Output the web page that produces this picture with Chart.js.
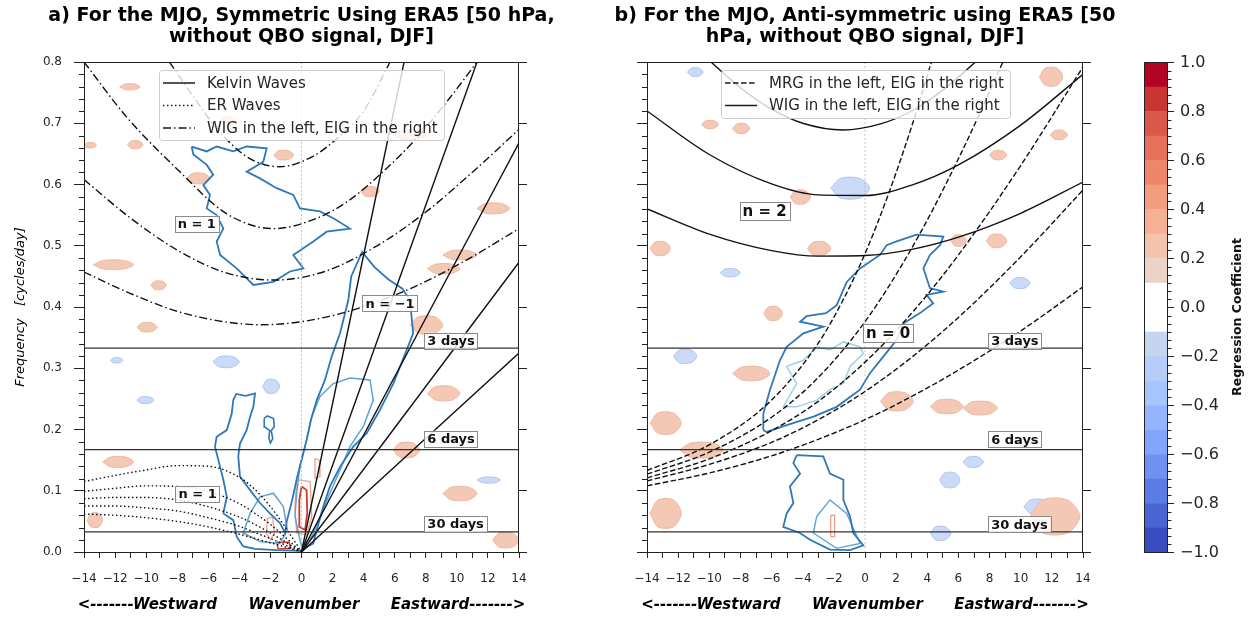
<!DOCTYPE html>
<html>
<head>
<meta charset="utf-8">
<script src="https://cdn.jsdelivr.net/npm/chart.js@4.4.1/dist/chart.umd.min.js"></script>
<style>
  html, body { margin: 0; padding: 0; background: #fff; }
  #wrap { position: relative; width: 1251px; height: 619px; overflow: hidden; }
  canvas { position: absolute; left: 0; top: 0; }
</style>
</head>
<body>
<div id="wrap">
  <canvas id="chartA" width="1251" height="619"></canvas>
  <canvas id="chartB" width="1251" height="619"></canvas>
  <canvas id="cbar" width="1251" height="619"></canvas>
</div>
<script>
// ---- values ----
const periodLabels = ['3 days', '6 days', '30 days'];
const periodFreq = [0.333, 0.167, 0.033];

// panel a: Kelvin waves, lines from the origin to the edge of the box
const kelvinEndK = [6.6, 11.3, 14, 14, 14];
const kelvinEndF = [0.8, 0.8, 0.668, 0.473, 0.325];

// panel a: WIG (left) / EIG (right), n = 1
const igaK1 = [-8.5, -7, -5.5, -3.5, -1.4, 0.8, 2.5, 4, 5.7];
const igaF1 = [0.8, 0.745, 0.693, 0.645, 0.629, 0.647, 0.68, 0.72, 0.8];
const igaK2 = [-14, -11.25, -8, -4.8, -1.8, 1, 3, 5, 7.2, 9.5, 11.3];
const igaF2 = [0.8, 0.71, 0.625, 0.552, 0.528, 0.545, 0.573, 0.615, 0.67, 0.74, 0.8];
const igaK3 = [-14, -11, -8, -5, -1.8, 1.5, 5, 8, 11, 14];
const igaF3 = [0.608, 0.545, 0.493, 0.457, 0.444, 0.458, 0.502, 0.555, 0.62, 0.69];
const igaK4 = [-14, -11, -8, -5, -2.6, 0, 3.3, 7, 10.5, 14];
const igaF4 = [0.457, 0.422, 0.393, 0.376, 0.371, 0.376, 0.395, 0.43, 0.475, 0.528];

// panel a: ER waves, n = 1
const erK = [-14, -12, -10, -8, -6, -4, -3, -2, -1, 0];
const erF1 = [0.115, 0.125, 0.134, 0.141, 0.140, 0.122, 0.102, 0.074, 0.039, 0];
const erF2 = [0.099, 0.104, 0.108, 0.107, 0.099, 0.079, 0.063, 0.045, 0.023, 0];
const erF3 = [0.087, 0.089, 0.089, 0.085, 0.074, 0.057, 0.045, 0.031, 0.016, 0];
const erF4 = [0.075, 0.075, 0.072, 0.067, 0.056, 0.042, 0.032, 0.022, 0.011, 0];
const erF5 = [0.062, 0.060, 0.056, 0.050, 0.041, 0.029, 0.022, 0.015, 0.008, 0];

// panel b: MRG (left) / EIG (right), n = 0
const mrgK = [-14, -10, -6, -3, 0, 3, 6, 10, 14];
const mrgF1 = [0.108, 0.129, 0.157, 0.184, 0.216, 0.254, 0.297, 0.361, 0.433];
const mrgF2 = [0.116, 0.143, 0.179, 0.216, 0.262, 0.318, 0.383, 0.482, 0.591];
const mrgF3 = [0.121, 0.152, 0.198, 0.246, 0.31, 0.39, 0.485, 0.631, 0.792];
const mrgK4 = [-14, -10, -6, -3, 0, 3, 6, 9];
const mrgF4 = [0.127, 0.163, 0.22, 0.285, 0.376, 0.496, 0.642, 0.808];
const mrgK5 = [-14, -10, -6, -3, -1.5, 0, 1.5, 3, 4.3];
const mrgF5 = [0.133, 0.175, 0.248, 0.341, 0.407, 0.487, 0.584, 0.695, 0.803];

// panel b: WIG (left) / EIG (right), n = 2
const igbK = [-14, -10, -6, -3, 0, 3, 6, 10, 14];
const igbF1 = [0.56, 0.519, 0.492, 0.483, 0.484, 0.494, 0.514, 0.553, 0.604];
const igbF2 = [0.72, 0.649, 0.601, 0.583, 0.582, 0.599, 0.632, 0.697, 0.78];
const igbK3 = [-9.9, -8, -6, -4, -1.4, 1, 3, 5, 7.1];
const igbF3 = [0.8, 0.758, 0.723, 0.7, 0.689, 0.699, 0.72, 0.754, 0.8];

// main regression contours, [wavenumber, frequency]
const aDarkWedge = [[-3.75,0.009],[-4.17,0.025],[-4.39,0.052],[-5.03,0.063],[-4.81,0.09],[-5.03,0.118],[-5.24,0.139],
  [-5.57,0.172],[-5.46,0.188],[-4.81,0.199],[-4.49,0.226],[-4.39,0.248],[-4.2,0.258],[-3.6,0.255],[-2.99,0.259],
  [-3.1,0.237],[-3.31,0.221],[-3.53,0.199],[-3.96,0.177],[-4.07,0.156],[-3.96,0.123],[-3.31,0.101],[-2.67,0.08],
  [-2.03,0.063],[-1.38,0.047],[-1.06,0.031],[-0.95,0.05],[-0.6,0.085],[-0.3,0.12],[0.0,0.15],[0.33,0.183],
  [0.6,0.215],[0.98,0.248],[1.51,0.281],[1.94,0.319],[2.48,0.357],[3.01,0.411],[3.2,0.45],[3.9,0.49],[4.7,0.465],
  [5.6,0.445],[6.5,0.43],[6.98,0.411],[7.19,0.357],[6.77,0.33],[5.91,0.275],[5.05,0.232],[4.2,0.194],[3.33,0.172],
  [2.48,0.139],[1.83,0.107],[1.4,0.074],[0.98,0.036],[0.76,0.014],[-0.1,0.002],[-1.6,0.003],[-3.0,0.005],[-3.75,0.009]];
const aDarkUpper = [[-7.07,0.662],[-6.1,0.654],[-5.46,0.662],[-4.39,0.654],[-3.53,0.662],[-2.24,0.659],[-2.46,0.637],
  [-3.53,0.621],[-2.67,0.61],[-1.6,0.594],[-0.53,0.583],[-0.1,0.561],[1.19,0.556],[2.05,0.545],[3.12,0.528],
  [1.62,0.523],[0.76,0.507],[-0.53,0.485],[0.12,0.463],[-0.74,0.458],[-1.81,0.441],[-3.1,0.436],[-4.17,0.463],
  [-5.24,0.485],[-5.46,0.507],[-5.03,0.528],[-5.46,0.55],[-6.1,0.561],[-5.89,0.583],[-6.32,0.599],[-5.68,0.616],
  [-6.1,0.632],[-6.96,0.649],[-7.07,0.662]];
const aDarkSmall = [[-2.4,0.218],[-2.2,0.222],[-1.8,0.218],[-1.75,0.205],[-1.95,0.198],[-1.85,0.185],[-2.0,0.178],
  [-2.1,0.186],[-2.05,0.198],[-2.35,0.204],[-2.4,0.218]];
const aMidWedge = [[-0.1,0.02],[-0.42,0.058],[-0.31,0.096],[-0.1,0.139],[0.33,0.183],[0.66,0.221],[1.19,0.254],
  [2.05,0.275],[3.12,0.284],[4.41,0.281],[4.62,0.248],[3.98,0.205],[3.12,0.172],[2.48,0.134],[1.83,0.096],
  [1.19,0.058],[0.66,0.025],[0.01,0.009],[-0.1,0.02]];
const aMidWest = [[-2.67,0.09],[-1.81,0.096],[-1.17,0.074],[-0.91,0.036],[-1.38,0.014],[-2.67,0.017],[-3.75,0.031],
  [-3.31,0.063],[-2.67,0.09]];
const aRedOuter = [[-0.31,0.118],[0.55,0.115],[0.66,0.058],[0.33,0.028],[-0.31,0.031],[-0.42,0.074],[-0.31,0.118]];
const aRedInner = [[0.01,0.107],[0.33,0.101],[0.37,0.063],[0.23,0.036],[-0.1,0.041],[-0.14,0.085],[0.01,0.107]];
const aRedUpper = [[0.87,0.153],[1.15,0.15],[1.19,0.123],[0.87,0.12],[0.87,0.153]];
const aRedWest = [[-2.2,0.055],[-1.85,0.057],[-1.75,0.03],[-2.0,0.02],[-2.25,0.03],[-2.2,0.055]];
const aRedBottom = [[-1.6,0.016],[-0.8,0.016],[-0.7,0.006],[-1.5,0.005],[-1.6,0.016]];

const bDarkBand = [[-6.53,0.199],[-6.53,0.226],[-6.1,0.265],[-5.46,0.313],[-5.03,0.335],[-3.96,0.357],[-2.67,0.368],
  [-4.17,0.376],[-3.75,0.385],[-2.5,0.39],[-1.82,0.403],[-1.17,0.441],[-0.32,0.463],[0.96,0.485],[1.39,0.501],
  [2.03,0.507],[3.31,0.518],[5.03,0.515],[4.82,0.501],[4.17,0.485],[3.75,0.463],[4.17,0.431],[5.03,0.425],
  [3.95,0.42],[4.38,0.406],[3.53,0.39],[2.46,0.373],[2.03,0.346],[1.17,0.319],[0.32,0.292],[-0.32,0.265],
  [-1.82,0.237],[-3.31,0.221],[-5.03,0.207],[-6.32,0.196],[-6.53,0.199]];
const bLightBand = [[-5.25,0.237],[-4.39,0.275],[-5.03,0.303],[-3.96,0.313],[-3.1,0.335],[-2.25,0.33],[-1.39,0.343],
  [-0.32,0.335],[-0.11,0.324],[-0.96,0.303],[-1.39,0.275],[-2.25,0.265],[-3.1,0.248],[-4.39,0.237],[-5.25,0.237]];
const bDarkLow = [[-4.39,0.158],[-2.68,0.156],[-2.25,0.128],[-1.39,0.118],[-1.39,0.085],[-0.96,0.058],[-0.75,0.031],
  [-0.11,0.011],[-0.96,0.003],[-2.25,0.004],[-3.53,0.02],[-4.18,0.031],[-5.25,0.041],[-5.03,0.063],[-4.6,0.08],
  [-4.82,0.107],[-4.17,0.128],[-4.6,0.145],[-4.39,0.158]];
const bLightLow = [[-3.1,0.058],[-2.25,0.085],[-1.18,0.063],[-0.32,0.014],[-1.82,0.006],[-3.32,0.031],[-3.1,0.058]];
const bRedLow = [[-2.2,0.06],[-1.95,0.06],[-1.95,0.025],[-2.2,0.025],[-2.2,0.06]];

// weak positive / negative patches, [k from, k to, f from, f to]
const aPinkPatches = [[-11.7,-10.4,0.755,0.764],[-11.2,-10.2,0.659,0.671],[-14,-13.2,0.66,0.668],[-7.4,-5.9,0.602,0.618],
  [-5.2,-4.2,0.698,0.71],[-13.4,-10.8,0.462,0.476],[-9.7,-8.7,0.429,0.442],[-1.8,-0.5,0.641,0.655],[5.9,8.1,0.674,0.688],
  [9.1,11.3,0.478,0.492],[8.1,10.2,0.455,0.47],[11.3,13.4,0.553,0.569],[3.8,5.0,0.581,0.596],[7.0,9.1,0.357,0.384],
  [8.1,10.2,0.248,0.27],[5.9,7.6,0.155,0.178],[-12.8,-10.8,0.139,0.155],[9.1,11.3,0.085,0.106],[12.3,14,0.008,0.031],
  [-10.6,-9.3,0.36,0.374],[-13.8,-12.8,0.041,0.063]];
const aBluePatches = [[-5.7,-4.0,0.302,0.319],[-2.5,-1.4,0.26,0.281],[-12.3,-11.5,0.309,0.317],[11.3,12.8,0.113,0.122],
  [-10.6,-9.5,0.243,0.253]];
const bPinkPatches = [[-10.5,-9.4,0.692,0.704],[-8.5,-7.4,0.684,0.699],[11.2,12.7,0.762,0.79],[8.0,9.1,0.641,0.655],
  [11.9,13.0,0.674,0.688],[-4.8,-3.5,0.569,0.59],[5.5,6.5,0.5,0.517],[7.8,9.1,0.498,0.518],[-3.7,-2.2,0.485,0.506],
  [-13.8,-12.5,0.485,0.506],[-8.5,-6.1,0.281,0.302],[-13.8,-11.8,0.041,0.085],[10.6,13.8,0.031,0.085],[4.2,6.3,0.227,0.248],
  [1.0,3.1,0.232,0.26],[6.3,8.5,0.225,0.245],[-11.9,-9.1,0.155,0.178],[-6.5,-5.3,0.379,0.4],[-13.8,-11.8,0.194,0.227]];
const bBluePatches = [[-12.3,-10.8,0.309,0.33],[4.2,5.5,0.02,0.041],[6.3,7.6,0.139,0.155],[4.8,6.1,0.106,0.129],
  [10.2,11.9,0.063,0.085],[-2.2,0.3,0.578,0.61],[-11.4,-10.4,0.777,0.79],[-9.3,-8.0,0.45,0.462],[9.3,10.6,0.431,0.447]];

// colour bar
const cbLevels = [-1, -0.9, -0.8, -0.7, -0.6, -0.5, -0.4, -0.3, -0.2, -0.1, 0, 0.1, 0.2, 0.3, 0.4, 0.5, 0.6, 0.7, 0.8, 0.9, 1];
const cbColors = ['#3b4cc0', '#4a64d4', '#5b7be5', '#6e91f2', '#81a5fb', '#94b5fe', '#a6c4fe', '#b6cdf8', '#c6d5ef',
  '#ffffff', '#ffffff', '#ebd3c7', '#f3c3ad', '#f5b096', '#f39d7f', '#ee8669', '#e5715a', '#d9584a', '#c93530', '#b40426'];

// ---- helpers ----
const FONT = 'DejaVu Sans';
const TXT = '#262626';
const DASHDOT = [8, 3, 1.5, 3];
const DOTTED = [1.5, 2.5];
const DASHED = [5.5, 2.5];

function pairs(ks, fs) { return ks.map((k, i) => ({ x: k, y: fs[i] })); }
function poly(list) { return list.map(p => ({ x: p[0], y: p[1] })); }
function fmtNum(v, d) {
  if (Math.abs(v) < 1e-9) v = 0;
  if (d === undefined) return v < 0 ? '\u2212' + Math.abs(Math.round(v)) : String(Math.round(v));
  const s = Math.abs(v).toFixed(d);
  return v < 0 ? '\u2212' + s : s;
}
function curve(data, color, width, dash) {
  return { data, borderColor: color, borderWidth: width, borderDash: dash || [], showLine: true,
    pointRadius: 0, pointHoverRadius: 0, fill: false, cubicInterpolationMode: 'monotone', order: 1 };
}
function contour(list, color, width) {
  return { data: poly(list), borderColor: color, borderWidth: width, showLine: true, pointRadius: 0,
    pointHoverRadius: 0, fill: false, tension: 0, order: 5 };
}
// a filled patch, drawn as a rough hexagon inside its bounds
function patch(p, fillColor, edgeColor) {
  const [k0, k1, f0, f1] = p;
  const q = (k1 - k0) * 0.25, fm = (f0 + f1) / 2;
  return { data: poly([[k0, fm], [k0 + q, f1], [k1 - q, f1], [k1, fm], [k1 - q, f0], [k0 + q, f0], [k0, fm]]),
    borderColor: edgeColor, borderWidth: 1, backgroundColor: fillColor, fill: 'shape', showLine: true,
    pointRadius: 0, pointHoverRadius: 0, tension: 0.3, order: 8 };
}
function periodSets() {
  return periodFreq.map(f => curve(pairs([-14, 14], [f, f]), '#333', 1.2));
}
function zeroLine() {
  const d = curve(pairs([0, 0], [0, 0.8]), '#b5b5b5', 0.8, [2, 2]);
  d.order = 4;
  return d;
}

function drawBox(ctx, text, x, y, size, align) {
  ctx.font = 'bold ' + size + 'px "' + FONT + '"';
  const w = ctx.measureText(text).width;
  const h = size + 3;
  const left = align === 'left' ? x : x - w / 2;
  ctx.fillStyle = 'rgba(255,255,255,0.85)';
  ctx.fillRect(left - 3, y - h / 2, w + 6, h);
  ctx.strokeStyle = '#8a8a8a';
  ctx.lineWidth = 1;
  ctx.strokeRect(Math.round(left - 3) + 0.5, Math.round(y - h / 2) + 0.5, Math.round(w + 6), Math.round(h));
  ctx.fillStyle = '#111';
  ctx.textAlign = 'left';
  ctx.textBaseline = 'middle';
  ctx.fillText(text, left, y + 1);
}

const panelDeco = {
  id: 'panelDeco',
  afterDatasetsDraw(chart, args, o) {
    const ctx = chart.ctx, a = chart.chartArea, xs = chart.scales.x, ys = chart.scales.y;
    ctx.save();
    // labels inside the box
    o.boxes.forEach(b => drawBox(ctx, b.text, xs.getPixelForValue(b.k), ys.getPixelForValue(b.f), b.size, b.align));
    // legend
    const L = o.legend;
    ctx.fillStyle = 'rgba(255,255,255,0.8)';
    ctx.strokeStyle = '#cccccc';
    ctx.lineWidth = 1;
    ctx.beginPath();
    ctx.roundRect(L.x + 0.5, L.y + 0.5, L.w, L.h, 3);
    ctx.fill();
    ctx.stroke();
    L.items.forEach((it, i) => {
      const y = L.y + 13 + i * 22.5;
      ctx.strokeStyle = '#1a1a1a';
      ctx.lineWidth = 1.5;
      ctx.setLineDash(it.dash);
      ctx.beginPath();
      ctx.moveTo(L.x + 4, y);
      ctx.lineTo(L.x + 36, y);
      ctx.stroke();
      ctx.setLineDash([]);
      ctx.fillStyle = TXT;
      ctx.font = '15px "' + FONT + '"';
      ctx.textAlign = 'left';
      ctx.textBaseline = 'middle';
      ctx.fillText(it.text, L.x + 48, y + 1);
    });
    // frame
    ctx.strokeStyle = '#222';
    ctx.lineWidth = 1;
    ctx.strokeRect(a.left + 0.5, a.top + 0.5, a.right - a.left - 1, a.bottom - a.top);
    // minor ticks on the left axis
    ctx.beginPath();
    for (let i = 0; i <= 40; i++) {
      if (i % 5 === 0) continue;
      const y = Math.round(ys.getPixelForValue(i * 0.02)) + 0.5;
      ctx.moveTo(a.left - 5, y);
      ctx.lineTo(a.left, y);
    }
    ctx.stroke();
    // titles
    const cx = (a.left + a.right) / 2;
    ctx.fillStyle = '#000';
    ctx.textAlign = 'center';
    ctx.textBaseline = 'alphabetic';
    ctx.font = 'bold 19px "' + FONT + '"';
    o.title.forEach((t, i) => ctx.fillText(t, cx, 21 + i * 20.5));
    // x axis description
    ctx.font = 'italic bold 15px "' + FONT + '"';
    ctx.fillText('<-------Westward      Wavenumber      Eastward------->', cx, 609);
    if (o.ylabel) {
      ctx.translate(21, (a.top + a.bottom) / 2);
      ctx.rotate(-Math.PI / 2);
      ctx.font = 'italic 13px "' + FONT + '"';
      ctx.textBaseline = 'middle';
      ctx.fillText(o.ylabel, 0, 0);
    }
    ctx.restore();
  }
};

function panelScales(showYLabels, yWidth) {
  return {
    x: {
      type: 'linear', min: -14, max: 14,
      ticks: { stepSize: 1, autoSkip: false, maxRotation: 0, minRotation: 0, padding: 14,
        color: TXT, font: { family: FONT, size: 12 },
        callback: v => (Math.round(v) % 2 === 0 ? fmtNum(v) : '') },
      grid: { display: true, drawOnChartArea: false, tickLength: 6, color: '#222', lineWidth: 1 },
      border: { display: false },
      afterFit: s => { s.height = 40; }
    },
    y: {
      type: 'linear', position: 'left', min: 0, max: 0.8,
      ticks: { stepSize: 0.1, display: showYLabels, padding: 12, color: TXT, font: { family: FONT, size: 12 },
        callback: v => fmtNum(v, 1) },
      grid: { display: true, drawOnChartArea: false, tickLength: 10, color: '#222', lineWidth: 1 },
      border: { display: false },
      afterFit: s => { s.width = yWidth; }
    },
    y2: {
      type: 'linear', position: 'right', min: 0, max: 0.8,
      ticks: { stepSize: 0.1, display: false },
      grid: { display: true, drawOnChartArea: false, tickLength: 8, color: '#222', lineWidth: 1 },
      border: { display: false },
      afterFit: s => { s.width = 10; }
    }
  };
}

const DARK = '#2e78b9', MID = '#5ea4d2', LIGHT = '#9dd0e8', RED = '#cc3a2c', PINK = '#f0a088';
const PATCH_PINK = '#f3c8b4', EDGE_PINK = '#edb9a2', PATCH_BLUE = '#cbdaf6', EDGE_BLUE = '#aec6f0';

// ---- panel a ----
const setsA = [
  ...aPinkPatches.map(p => patch(p, PATCH_PINK, EDGE_PINK)),
  ...aBluePatches.map(p => patch(p, PATCH_BLUE, EDGE_BLUE)),
  contour(aDarkWedge, DARK, 1.8),
  contour(aDarkUpper, DARK, 1.8),
  contour(aDarkSmall, DARK, 1.6),
  contour(aMidWedge, MID, 1.5),
  contour(aMidWest, MID, 1.5),
  contour(aRedOuter, PINK, 1.3),
  contour(aRedInner, RED, 1.8),
  contour(aRedUpper, PINK, 1.3),
  contour(aRedWest, PINK, 1.3),
  contour(aRedBottom, RED, 1.5),
  zeroLine(),
  ...periodSets(),
  ...kelvinEndK.map((k, i) => curve(pairs([0, k], [0, kelvinEndF[i]]), '#111', 1.4)),
  curve(pairs(igaK1, igaF1), '#111', 1.4, DASHDOT),
  curve(pairs(igaK2, igaF2), '#111', 1.4, DASHDOT),
  curve(pairs(igaK3, igaF3), '#111', 1.4, DASHDOT),
  curve(pairs(igaK4, igaF4), '#111', 1.4, DASHDOT),
  ...[erF1, erF2, erF3, erF4, erF5].map(f => curve(pairs(erK, f), '#111', 1.4, DOTTED))
];

new Chart(document.getElementById('chartA'), {
  type: 'scatter',
  data: { datasets: setsA },
  options: {
    responsive: false, animation: false, events: [],
    layout: { padding: { left: 24, right: 722, top: 62, bottom: 27 } },
    scales: panelScales(true, 60),
    plugins: {
      legend: { display: false }, tooltip: { enabled: false },
      panelDeco: {
        title: ['a) For the MJO, Symmetric Using ERA5 [50 hPa,', 'without QBO signal, DJF]'],
        ylabel: 'Frequency   [cycles/day]',
        legend: { x: 159, y: 70, w: 285, h: 70, items: [
          { text: 'Kelvin Waves', dash: [] },
          { text: 'ER Waves', dash: DOTTED },
          { text: 'WIG in the left, EIG in the right', dash: DASHDOT }
        ] },
        boxes: [
          { text: 'n = 1', k: -6.74, f: 0.536, size: 13 },
          { text: 'n = \u22121', k: 5.7, f: 0.406, size: 13 },
          { text: 'n = 1', k: -6.69, f: 0.095, size: 13 },
          { text: periodLabels[0], k: 8.1, f: 0.345, size: 13, align: 'left' },
          { text: periodLabels[1], k: 8.1, f: 0.185, size: 13, align: 'left' },
          { text: periodLabels[2], k: 8.1, f: 0.046, size: 13, align: 'left' }
        ]
      }
    }
  },
  plugins: [panelDeco]
});

// ---- panel b ----
const setsB = [
  ...bPinkPatches.map(p => patch(p, PATCH_PINK, EDGE_PINK)),
  ...bBluePatches.map(p => patch(p, PATCH_BLUE, EDGE_BLUE)),
  contour(bDarkBand, DARK, 1.8),
  contour(bLightBand, LIGHT, 1.5),
  contour(bDarkLow, DARK, 1.8),
  contour(bLightLow, MID, 1.4),
  contour(bRedLow, PINK, 1.3),
  zeroLine(),
  ...periodSets(),
  curve(pairs(mrgK, mrgF1), '#111', 1.4, DASHED),
  curve(pairs(mrgK, mrgF2), '#111', 1.4, DASHED),
  curve(pairs(mrgK, mrgF3), '#111', 1.4, DASHED),
  curve(pairs(mrgK4, mrgF4), '#111', 1.4, DASHED),
  curve(pairs(mrgK5, mrgF5), '#111', 1.4, DASHED),
  curve(pairs(igbK, igbF1), '#111', 1.4),
  curve(pairs(igbK, igbF2), '#111', 1.4),
  curve(pairs(igbK3, igbF3), '#111', 1.4)
];

new Chart(document.getElementById('chartB'), {
  type: 'scatter',
  data: { datasets: setsB },
  options: {
    responsive: false, animation: false, events: [],
    layout: { padding: { left: 635, right: 158, top: 62, bottom: 27 } },
    scales: panelScales(false, 12),
    plugins: {
      legend: { display: false }, tooltip: { enabled: false },
      panelDeco: {
        title: ['b) For the MJO, Anti-symmetric using ERA5 [50', 'hPa, without QBO signal, DJF]'],
        legend: { x: 721, y: 70, w: 289, h: 48, items: [
          { text: 'MRG in the left, EIG in the right', dash: DASHED },
          { text: 'WIG in the left, EIG in the right', dash: [] }
        ] },
        boxes: [
          { text: 'n = 2', k: -6.45, f: 0.557, size: 15 },
          { text: 'n = 0', k: 1.48, f: 0.357, size: 15 },
          { text: periodLabels[0], k: 8.1, f: 0.345, size: 13, align: 'left' },
          { text: periodLabels[1], k: 8.1, f: 0.184, size: 13, align: 'left' },
          { text: periodLabels[2], k: 8.1, f: 0.045, size: 13, align: 'left' }
        ]
      }
    }
  },
  plugins: [panelDeco]
});

// ---- colour bar ----
const cbDeco = {
  id: 'cbDeco',
  afterDatasetsDraw(chart) {
    const ctx = chart.ctx, a = chart.chartArea, ys = chart.scales.y;
    ctx.save();
    ctx.strokeStyle = '#222';
    ctx.lineWidth = 1;
    ctx.strokeRect(a.left + 0.5, a.top, a.right - a.left - 1, a.bottom - a.top);
    ctx.beginPath();
    for (let i = 0; i <= 60; i++) {
      if (i % 6 === 0) continue;
      const y = Math.round(ys.getPixelForValue(-1 + i / 30)) + 0.5;
      ctx.moveTo(a.right, y);
      ctx.lineTo(a.right + 3.5, y);
    }
    ctx.stroke();
    ctx.translate(1238, 317);
    ctx.rotate(-Math.PI / 2);
    ctx.fillStyle = '#111';
    ctx.font = 'bold 12.5px "' + FONT + '"';
    ctx.textAlign = 'center';
    ctx.textBaseline = 'middle';
    ctx.fillText('Regression Coefficient', 0, 0);
    ctx.restore();
  }
};

new Chart(document.getElementById('cbar'), {
  type: 'bar',
  data: {
    labels: ['cb'],
    datasets: cbColors.map((c, i) => ({
      data: [[cbLevels[i], cbLevels[i + 1]]], backgroundColor: c, borderWidth: 0,
      grouped: false, barPercentage: 1, categoryPercentage: 1
    }))
  },
  options: {
    responsive: false, animation: false, events: [],
    layout: { padding: { left: 1144, right: 23, top: 62.5, bottom: 66.5 } },
    scales: {
      x: { display: false },
      y: {
        position: 'right', min: -1, max: 1,
        ticks: { stepSize: 0.2, padding: 6, color: TXT, font: { family: FONT, size: 16 }, callback: v => fmtNum(v, 1) },
        grid: { display: true, drawOnChartArea: false, tickLength: 6, color: '#222' },
        border: { display: false },
        afterFit: s => { s.width = 60; }
      }
    },
    plugins: { legend: { display: false }, tooltip: { enabled: false } }
  },
  plugins: [cbDeco]
});
</script>
</body>
</html>
